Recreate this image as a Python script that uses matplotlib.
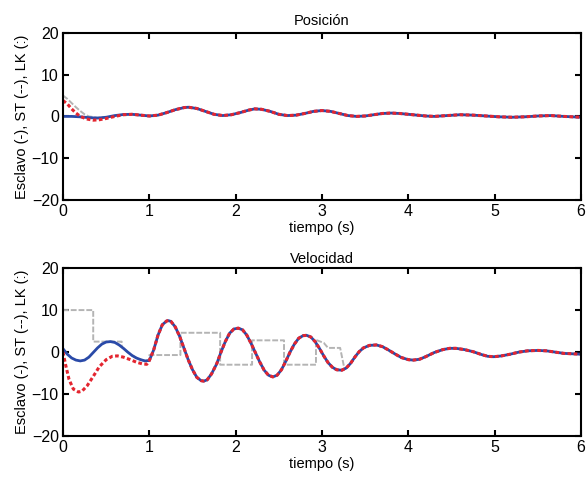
import matplotlib
matplotlib.use("Agg")
import matplotlib.pyplot as plt

plt.rcParams['font.family'] = ['Liberation Sans', 'DejaVu Sans']

# --- Posicion -------------------------------------------------------------
pos_blue_t = [0, 0.1, 0.2, 0.3, 0.4, 0.5, 0.6, 0.7, 0.8, 0.9]
pos_blue_v = [0.0, 0.0, -0.1, -0.3, -0.4, -0.2, 0.2, 0.45, 0.5, 0.3]
pos_red_t = [0, 0.05, 0.1, 0.15, 0.2, 0.27, 0.35, 0.42, 0.5, 0.6, 0.7, 0.8, 0.9]
pos_red_v = [3.8, 3.0, 1.8, 0.8, 0.0, -0.6, -0.9, -0.8, -0.5, 0.0, 0.4, 0.5, 0.3]
pos_gray_t = [0, 0.05, 0.1, 0.15, 0.2, 0.25, 0.3, 0.4, 0.5, 0.6, 0.7, 0.8, 0.9]
pos_gray_v = [5.0, 4.2, 3.2, 2.2, 1.3, 0.5, 0.0, -0.3, -0.2, 0.1, 0.45, 0.5, 0.3]
pos_t = [1.0, 1.1, 1.2, 1.3, 1.4, 1.45, 1.55, 1.65, 1.75, 1.85, 1.95, 2.05, 2.15,
         2.22, 2.3, 2.4, 2.5, 2.6, 2.7, 2.8, 2.9, 3.0, 3.1, 3.2, 3.3, 3.4, 3.5,
         3.6, 3.7, 3.8, 3.9, 4.0, 4.1, 4.2, 4.3, 4.45, 4.6, 4.75, 4.9, 5.05,
         5.2, 5.35, 5.5, 5.65, 5.8, 6.0]
pos_v = [0.1, 0.3, 0.9, 1.6, 2.1, 2.2, 1.9, 1.2, 0.5, 0.2, 0.4, 0.9, 1.5,
         1.8, 1.7, 1.2, 0.5, 0.2, 0.3, 0.7, 1.2, 1.4, 1.2, 0.7, 0.2, 0.0, 0.1,
         0.4, 0.7, 0.8, 0.7, 0.5, 0.3, 0.1, 0.0, 0.2, 0.4, 0.3, 0.1, -0.1,
         -0.2, -0.1, 0.1, 0.2, 0.0, -0.2]

# --- Velocidad ------------------------------------------------------------
vel_blue_t = [0, 0.05, 0.1, 0.15, 0.2, 0.25, 0.3, 0.35, 0.4, 0.45, 0.5, 0.55,
              0.6, 0.65, 0.7, 0.75, 0.8, 0.85, 0.9, 0.95]
vel_blue_v = [0.8, -0.5, -1.4, -1.9, -2.1, -1.9, -1.2, -0.1, 1.0, 1.9, 2.4, 2.5,
              2.3, 1.7, 0.9, 0.0, -0.8, -1.4, -1.8, -2.1]
vel_red_t = [0, 0.03, 0.07, 0.12, 0.18, 0.22, 0.28, 0.35, 0.42, 0.5, 0.57, 0.63,
             0.7, 0.78, 0.85, 0.92, 0.97]
vel_red_v = [0.0, -3.0, -6.5, -8.8, -9.5, -9.3, -8.0, -5.8, -3.5, -1.8, -1.0, -0.9,
             -1.2, -1.8, -2.4, -2.8, -2.9]
vel_t = [1.0, 1.05, 1.1, 1.15, 1.2, 1.22, 1.25, 1.3, 1.35, 1.4, 1.45, 1.5, 1.55,
         1.6, 1.63, 1.67, 1.72, 1.78, 1.83, 1.88, 1.93, 1.98, 2.03, 2.08, 2.13,
         2.18, 2.23, 2.28, 2.33, 2.38, 2.43, 2.48, 2.53, 2.58, 2.63, 2.68, 2.73,
         2.78, 2.82, 2.87, 2.92, 2.97, 3.02, 3.07, 3.12, 3.17, 3.23, 3.28, 3.33,
         3.38, 3.43, 3.48, 3.55, 3.63, 3.7, 3.77, 3.85, 3.92, 4.0, 4.06, 4.13,
         4.2, 4.3, 4.4, 4.48, 4.55, 4.65, 4.75, 4.85, 4.92, 4.99, 5.08, 5.18,
         5.28, 5.38, 5.5, 5.6, 5.7, 5.8, 5.9, 6.0]
vel_v = [-2.0, 0.5, 4.0, 6.5, 7.4, 7.5, 7.3, 6.0, 3.8, 1.0, -1.8, -4.2, -6.0,
         -6.8, -6.9, -6.6, -5.2, -2.8, 0.0, 2.5, 4.5, 5.5, 5.7, 5.3, 4.0,
         2.0, -0.2, -2.4, -4.3, -5.5, -5.9, -5.5, -4.2, -2.2, 0.0, 1.9, 3.3,
         3.9, 4.0, 3.6, 2.5, 0.9, -0.9, -2.5, -3.6, -4.2, -4.3, -3.8, -2.7,
         -1.2, 0.1, 1.0, 1.6, 1.7, 1.3, 0.5, -0.5, -1.3, -1.8, -1.9, -1.7,
         -1.1, -0.1, 0.6, 0.9, 0.9, 0.6, 0.1, -0.6, -1.0, -1.1, -0.9, -0.5,
         0.0, 0.3, 0.4, 0.3, 0.0, -0.3, -0.4, -0.5]
# stepped reference (gray)
vel_step_t = [0, 0.35, 0.35, 0.68, 0.68, 0.75, 0.8, 0.85, 0.9, 0.95, 1.0, 1.0,
              1.36, 1.36, 1.82, 1.82, 2.19, 2.19, 2.56, 2.56, 2.93, 2.93, 3.02,
              3.07, 3.21, 3.26]
vel_step_v = [10, 10, 2.5, 2.5, 1.2, 0.0, -0.8, -1.4, -1.8, -2.1, -2.0, -0.7,
              -0.7, 4.6, 4.6, -3.0, -3.0, 2.8, 2.8, -3.0, -3.0, 2.9, 2.2,
              1.0, 1.0, -4.0]

xticks = [0, 1, 2, 3, 4, 5, 6]
yticks = [-20, -10, 0, 10, 20]
ylab = "Esclavo (-), ST (--), LK (:)"

blue = '#2a4aa8'
red = '#e4252f'
gray = '#b4b4b4'

fig = plt.figure(figsize=(5.86, 4.83), dpi=100)
ax1 = fig.add_axes([0.1075, 0.586, 0.884, 0.346])
ax2 = fig.add_axes([0.1075, 0.097, 0.884, 0.348])

# position
ax1.plot(pos_gray_t + pos_t, pos_gray_v + pos_v, color=gray, lw=1.4,
         ls=(0, (3, 1)))
ax1.plot(pos_blue_t + pos_t, pos_blue_v + pos_v, color=blue, lw=2.0)
ax1.plot(pos_red_t + pos_t, pos_red_v + pos_v, color=red, lw=2.2,
         ls=(0, (1.2, 0.8)))
ax1.set_title("Posición", fontsize=10.5, pad=6)

# velocity
late = [i for i, t in enumerate(vel_t) if t >= 3.26]
ax2.plot(vel_step_t + [vel_t[i] for i in late],
         vel_step_v + [vel_v[i] for i in late], color=gray, lw=1.4,
         ls=(0, (3, 1)))
ax2.plot(vel_blue_t + vel_t, vel_blue_v + vel_v, color=blue, lw=2.0)
ax2.plot(vel_red_t + vel_t, vel_red_v + vel_v, color=red, lw=2.2,
         ls=(0, (1.2, 0.8)))
ax2.set_title("Velocidad", fontsize=10.5, pad=4)

for ax in (ax1, ax2):
    ax.set_xlim(0, 6)
    ax.set_ylim(-20, 20)
    ax.set_xticks(xticks)
    ax.set_yticks(yticks)
    ax.tick_params(direction='in', top=True, right=True, length=4, width=1.5,
                   labelsize=11.5, pad=3)
    for s in ax.spines.values():
        s.set_linewidth(1.5)
    ax.set_xlabel("tiempo (s)", fontsize=10.5, labelpad=1)
    ax.set_ylabel(ylab, fontsize=10.5, labelpad=2)

fig.savefig("out.png", dpi=100)
